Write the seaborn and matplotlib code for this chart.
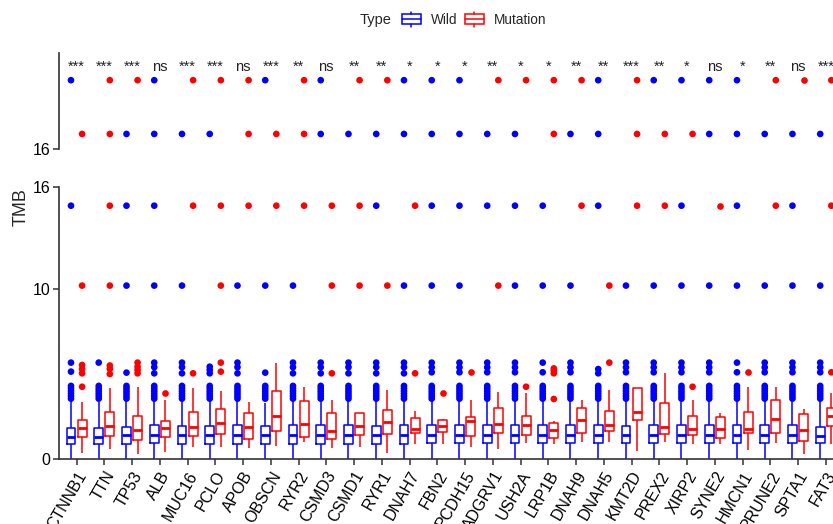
import numpy as np
import pandas as pd
import matplotlib
matplotlib.use("Agg")
import matplotlib.pyplot as plt
import seaborn as sns
from matplotlib.patches import Rectangle

sns.set_style("ticks")
plt.rcParams["font.family"] = ["Liberation Sans", "DejaVu Sans"]

# ---------------- data ----------------
genes = ["CTNNB1", "TTN", "TP53", "ALB", "MUC16", "PCLO", "APOB", "OBSCN", "RYR2",
         "CSMD3", "CSMD1", "RYR1", "DNAH7", "FBN2", "PCDH15", "ADGRV1", "USH2A",
         "LRP1B", "DNAH9", "DNAH5", "KMT2D", "PREX2", "XIRP2", "SYNE2", "HMCN1",
         "PRUNE2", "SPTA1", "FAT3"]
types = ["Wild", "Mutation"]

signif = ["***", "***", "***", "ns", "***", "***", "ns", "***", "**", "ns", "**", "**",
          "*", "*", "*", "**", "*", "*", "**", "**", "***", "**", "*", "ns", "*", "**",
          "ns", "***"]

# five-number summaries (lower whisker, Q1, median, Q3, upper whisker)
wild_box = [
    (0, 0.86, 1.27, 1.84, 3.45), (0, 0.86, 1.27, 1.84, 3.35), (0, 0.86, 1.41, 1.90, 3.40),
    (0, 0.94, 1.43, 2.02, 3.45), (0, 0.90, 1.41, 1.92, 3.40), (0, 0.90, 1.41, 1.92, 3.40),
    (0, 0.90, 1.43, 2.02, 3.45), (0, 0.90, 1.41, 1.92, 3.30), (0, 0.90, 1.43, 2.02, 3.45),
    (0, 0.90, 1.43, 2.02, 3.45), (0, 0.90, 1.43, 2.02, 3.45), (0, 0.90, 1.43, 1.96, 3.40),
    (0, 0.90, 1.43, 2.02, 3.45), (0, 0.92, 1.39, 2.00, 3.45), (0, 0.92, 1.39, 2.00, 3.45),
    (0, 0.92, 1.39, 2.00, 3.45), (0, 0.92, 1.39, 2.00, 3.45), (0, 0.92, 1.39, 2.00, 3.55),
    (0, 0.92, 1.39, 2.00, 3.45), (0, 0.92, 1.39, 2.00, 3.45), (0, 0.92, 1.39, 1.94, 3.45),
    (0, 0.92, 1.39, 2.00, 3.45), (0, 0.92, 1.39, 2.00, 3.45), (0, 0.92, 1.39, 2.00, 3.45),
    (0, 0.92, 1.39, 2.00, 3.45), (0, 0.92, 1.39, 2.00, 3.45), (0, 0.92, 1.39, 2.00, 3.45),
    (0, 0.92, 1.37, 1.90, 3.45),
]
mut_box = [
    (0.33, 1.31, 1.80, 2.27, 3.33), (0.59, 1.33, 1.94, 2.75, 4.16), (0.27, 1.14, 1.71, 2.51, 4.25),
    (0.39, 1.27, 1.84, 2.24, 3.50), (0.73, 1.37, 1.88, 2.75, 4.20), (0.73, 1.47, 2.12, 2.92, 4.00),
    (0.63, 1.16, 1.88, 2.69, 3.33), (0.76, 1.63, 2.51, 4.02, 5.63), (0.98, 1.31, 2.04, 3.43, 4.22),
    (0.63, 1.20, 1.67, 2.69, 3.50), (0.73, 1.41, 1.96, 2.69, 2.69), (0.37, 1.45, 2.20, 2.88, 4.06),
    (0.86, 1.51, 1.78, 2.39, 2.82), (0.90, 1.59, 1.94, 2.29, 2.37), (0.69, 1.37, 2.24, 2.49, 3.50),
    (0.59, 1.51, 2.04, 2.98, 3.92), (0.92, 1.43, 1.98, 2.51, 3.86), (0.90, 1.25, 1.71, 2.10, 2.24),
    (0.98, 1.51, 2.29, 2.98, 3.47), (0.98, 1.67, 1.98, 2.82, 4.06), (0.47, 2.29, 2.78, 4.20, 4.20),
    (0.98, 1.47, 1.86, 3.27, 5.04), (0.88, 1.43, 1.76, 2.55, 3.50), (0.86, 1.22, 1.76, 2.45, 2.69),
    (0.53, 1.51, 1.76, 2.75, 4.22), (0.92, 1.51, 2.37, 3.47, 4.22), (0.27, 1.06, 1.71, 2.63, 2.92),
    (0.90, 1.94, 2.53, 2.98, 3.90),
]

# dense band of Wild outliers just above the whisker (same for all genes)
wild_cluster = [3.55, 3.7, 3.85, 4.0, 4.15, 4.3]
wild_extra = [
    [5.14, 5.67], [5.67], [5.08], [5.04, 5.4, 5.67], [5.04, 5.4, 5.67], [5.04, 5.24, 5.43],
    [5.04, 5.4, 5.67], [5.08], [5.04, 5.4, 5.67], [5.04, 5.4, 5.67], [5.04, 5.4, 5.67],
    [5.04, 5.4, 5.67], [5.04, 5.4, 5.67], [5.1, 5.39, 5.67], [5.1, 5.39, 5.67],
    [5.1, 5.39, 5.67], [5.1, 5.39, 5.67], [5.1, 5.67], [5.1, 5.39, 5.67], [5.04, 5.29],
    [5.1, 5.39, 5.67], [5.1, 5.39, 5.67], [5.1, 5.39, 5.67], [5.1, 5.39, 5.67],
    [5.1, 5.67], [5.1, 5.39, 5.67], [5.1, 5.39, 5.67], [5.1, 5.39, 5.67],
]
mut_extra = [
    [4.25, 5.04, 5.29, 5.53], [5.0, 5.3, 5.5], [5.04, 5.24, 5.43, 5.67], [3.9], [5.04],
    [5.14, 5.67], [], [], [], [5.04], [], [], [5.04], [3.9], [5.1], [], [4.25],
    [3.53, 5.04, 5.2, 5.33], [], [5.67], [], [], [4.25], [], [5.1], [], [], [5.1],
]

# four samples with very high TMB; which group each falls in per gene
high_values = [20.3, 16.94, 14.9, 10.2]
high_groups = [
    "WMMWMMMWMWMMWWWMMMMWMWWWWMMM",
    "MMWWWWMMMWWWWWWWWMWWMMMWWWWW",
    "WMWWMMMMMMMWMWWWWWMWMMWMWMWM",
    "MMWWWMWWWMMMWWWMWWWMWWWWWWWW",
]

# ---------------- tables ----------------
box_rows = []
for g, w, m in zip(genes, wild_box, mut_box):
    box_rows += [(g, "Wild", v) for v in w]
    box_rows += [(g, "Mutation", v) for v in m]
box_df = pd.DataFrame(box_rows, columns=["Gene", "Type", "TMB"])

out_rows = []
for i, g in enumerate(genes):
    out_rows += [(g, "Wild", v) for v in wild_cluster + wild_extra[i]]
    out_rows += [(g, "Mutation", v) for v in mut_extra[i]]
    for val, grp in zip(high_values, high_groups):
        out_rows.append((g, "Wild" if grp[i] == "W" else "Mutation", val))
out_df = pd.DataFrame(out_rows, columns=["Gene", "Type", "TMB"])

palette = {"Wild": "#0000FF", "Mutation": "#FF0000"}
axis_col = "#333333"

# ---------------- figure ----------------
W, H = 833, 524
fig = plt.figure(figsize=(W / 100, H / 100), dpi=100)


def px_axes(l, t, r, b):
    return fig.add_axes([l / W, 1 - b / H, (r - l) / W, (b - t) / H])


ax_top = px_axes(58.5, 53, 843.8, 149)
ax_bot = px_axes(58.5, 187, 843.8, 459)

sns.boxplot(data=box_df, x="Gene", y="TMB", hue="Type", order=genes, hue_order=types,
            palette=palette, fill=False, whis=(0, 100), showfliers=False, showcaps=False,
            width=0.8, gap=0.2, linewidth=1.1, medianprops={"linewidth": 2.0},
            legend=False, ax=ax_bot)

for ax in (ax_top, ax_bot):
    sns.stripplot(data=out_df, x="Gene", y="TMB", hue="Type", order=genes,
                  hue_order=types, palette=palette, dodge=True, jitter=False,
                  size=4.8, linewidth=0, legend=False, ax=ax)
    ax.set_xlim(-0.65, len(genes) - 1 + 0.65)
    ax.set_xlabel("")
    ax.set_ylabel("")
    for s in ("top", "right"):
        ax.spines[s].set_visible(False)
    for s in ("left", "bottom"):
        ax.spines[s].set_color(axis_col)
        ax.spines[s].set_linewidth(1.2)
    ax.tick_params(axis="both", length=4, width=1.1, color=axis_col,
                   labelcolor="black", labelsize=11.5, pad=2)

# top panel
ax_top.set_ylim(16, 22)
ax_top.set_yticks([16])
ax_top.spines["bottom"].set_visible(False)
ax_top.tick_params(axis="x", bottom=False, labelbottom=False)
for i, lab in enumerate(signif):
    ax_top.text(i, 20.9, lab, ha="center", va="baseline", fontsize=10.5,
                color="#222222", clip_on=False)

# bottom panel
ax_bot.set_ylim(0, 16)
ax_bot.set_yticks([0, 10, 16])
ax_bot.set_xticks(range(len(genes)))
ax_bot.set_xticklabels(genes, rotation=60, ha="right", va="top",
                       rotation_mode="anchor", fontsize=11.5)
ax_bot.tick_params(axis="x", pad=3)

# y label
fig.text(21.5 / W, 1 - 207 / H, "TMB", rotation=90, ha="center", va="center",
         fontsize=13)

# legend drawn in pixel space
ov = fig.add_axes([0, 0, 1, 1])
ov.set_xlim(0, W)
ov.set_ylim(H, 0)
ov.axis("off")
ov.text(360, 24, "Type", ha="left", va="baseline", fontsize=10.5)
for x0, lab, col in [(402, "Wild", palette["Wild"]), (465, "Mutation", palette["Mutation"])]:
    ov.add_patch(Rectangle((x0, 14), 19, 10, fill=False, ec=col, lw=1.1))
    ov.plot([x0, x0 + 19], [19, 19], color=col, lw=1.1)
    ov.plot([x0 + 9.5, x0 + 9.5], [11.7, 14], color=col, lw=1.1)
    ov.plot([x0 + 9.5, x0 + 9.5], [24, 26.7], color=col, lw=1.1)
    ov.text(x0 + 28.7, 24, lab, ha="left", va="baseline", fontsize=9.8)

fig.savefig("out.png", dpi=100)
